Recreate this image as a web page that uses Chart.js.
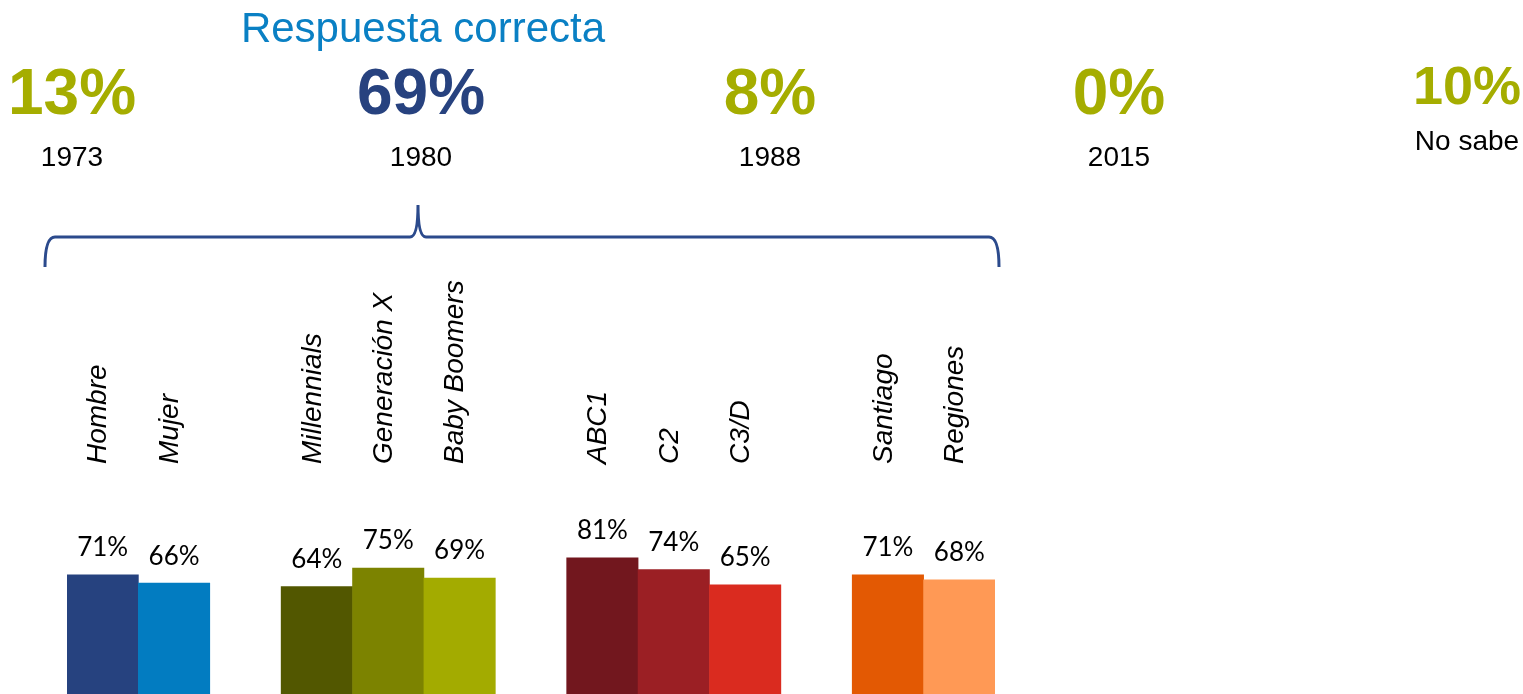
<!DOCTYPE html>
<html>
<head>
<meta charset="utf-8">
<script src="https://cdn.jsdelivr.net/npm/chart.js@4/dist/chart.umd.min.js"></script>
<style>
  body { margin: 0; background: #fff; }
  #wrap { width: 1523px; height: 694px; }
</style>
</head>
<body>
<div id="wrap"><canvas id="chart-area" width="1523" height="694"></canvas></div>
<script>
// segments (blank slots separate the groups)
const categories = ['Hombre', 'Mujer', '', 'Millennials', 'Generación X', 'Baby Boomers', '',
  'ABC1', 'C2', 'C3/D', '', 'Santiago', 'Regiones'];
const values = [71, 66, null, 64, 75, 69, null, 81, 74, 65, null, 71, 68];
const barColors = ['#26427f', '#027cc1', '#fff', '#525700', '#7c8300', '#a3ab00', '#fff',
  '#72171e', '#9b1f24', '#da2b1f', '#fff', '#e35903', '#ff9955'];

// answer options at the top
const options = ['1973', '1980', '1988', '2015', 'No sabe'];
const optionValues = [13, 69, 8, 0, 10];
const optionColors = ['#a5ad00', '#27427f', '#a5ad00', '#a5ad00', '#a5ad00'];

const headerPlugin = {
  id: 'header',
  afterDraw(chart) {
    const ctx = chart.ctx;
    ctx.save();
    ctx.textAlign = 'center';
    ctx.textBaseline = 'alphabetic';
    ctx.fillStyle = '#0a80c4';
    ctx.font = '42px "Liberation Sans", Arial, sans-serif';
    ctx.fillText('Respuesta correcta', 423, 42);

    options.forEach((lab, i) => {
      const x = 72 + i * 349;
      const last = lab === 'No sabe';
      ctx.fillStyle = optionColors[i];
      ctx.font = 'bold ' + (last ? 54 : 64) + 'px "Liberation Sans", Arial, sans-serif';
      ctx.fillText(optionValues[i] + '%', last ? 1467 : x, last ? 104 : 114);
      ctx.fillStyle = '#000';
      ctx.font = '28px "Liberation Sans", Arial, sans-serif';
      ctx.fillText(lab, last ? 1467 : x, last ? 150 : 166);
    });

    // bracket
    ctx.strokeStyle = '#2b4a8c';
    ctx.lineWidth = 3;
    ctx.beginPath();
    ctx.moveTo(45, 267);
    ctx.quadraticCurveTo(45, 237, 55, 237);
    ctx.lineTo(410, 237);
    ctx.quadraticCurveTo(418, 237, 418, 205);
    ctx.quadraticCurveTo(418, 237, 426, 237);
    ctx.lineTo(989, 237);
    ctx.quadraticCurveTo(999, 237, 999, 267);
    ctx.stroke();
    ctx.restore();
  }
};

const labelPlugin = {
  id: 'barLabels',
  afterDatasetsDraw(chart) {
    const ctx = chart.ctx;
    const meta = chart.getDatasetMeta(0);
    ctx.save();
    meta.data.forEach((bar, i) => {
      if (values[i] == null) return;
      ctx.fillStyle = '#000';
      ctx.textAlign = 'center';
      ctx.textBaseline = 'middle';
      ctx.font = '26px Lato, "Open Sans", sans-serif';
      ctx.fillText(values[i] + '%', bar.x, bar.y - 27);

      ctx.save();
      ctx.translate(bar.x - 4, 464);
      ctx.rotate(-Math.PI / 2);
      ctx.textAlign = 'left';
      ctx.textBaseline = 'middle';
      ctx.font = 'italic 28px "Liberation Sans", Arial, sans-serif';
      ctx.fillText(categories[i], 0, 0);
      ctx.restore();
    });
    ctx.restore();
  }
};

window.onload = function() {
  let ctx = document.getElementById('chart-area').getContext('2d');
  new Chart(ctx, {
    type: 'bar',
    data: {
      labels: categories,
      datasets: [{
        data: values,
        backgroundColor: barColors,
        borderWidth: 0,
        categoryPercentage: 1,
        barPercentage: 1
      }]
    },
    options: {
      responsive: false,
      animation: false,
      layout: { padding: { left: 67, right: 528, top: 526, bottom: 0 } },
      plugins: { legend: { display: false }, tooltip: { enabled: false } },
      scales: {
        x: { display: false },
        y: { display: false, min: 0, max: 100 }
      }
    },
    plugins: [headerPlugin, labelPlugin]
  });
};
</script>
</body>
</html>
